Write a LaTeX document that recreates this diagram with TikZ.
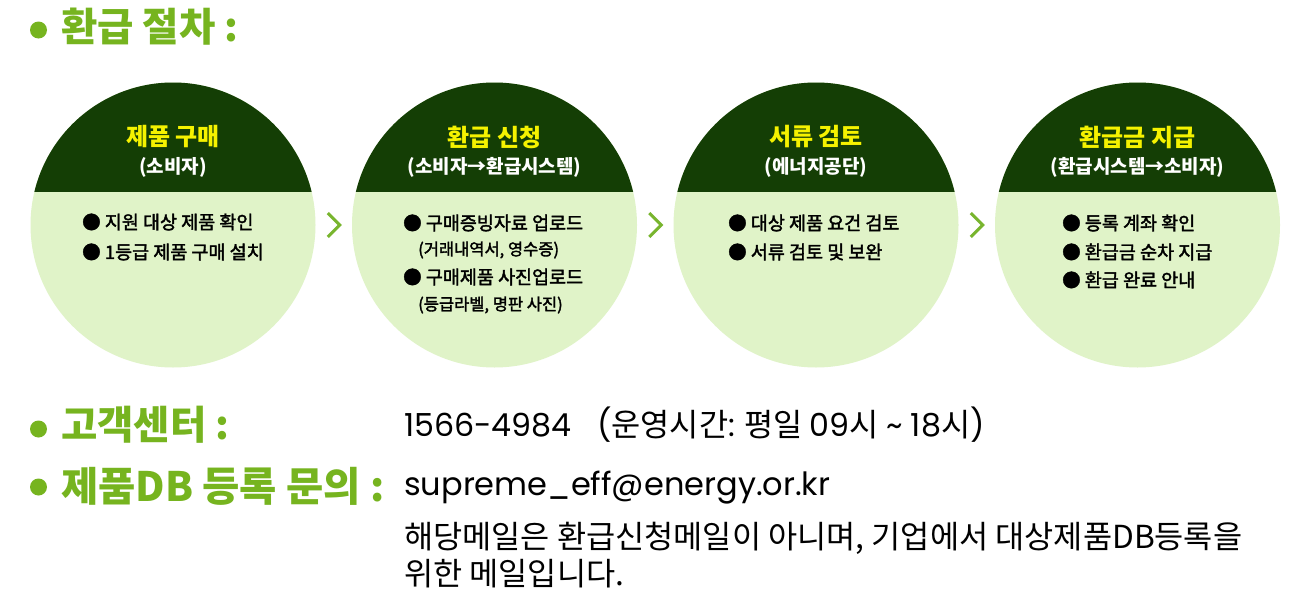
\documentclass[tikz,border=0pt]{standalone}
\usepackage{fontspec}
\setmainfont{Noto Sans CJK KR}
\newfontfamily\pop{Poppins}
\newfontfamily\krmid{Noto Sans CJK KR}[FakeBold=2]
\usetikzlibrary{calc}
\definecolor{hgreen}{HTML}{76B41F}
\definecolor{dgreen}{HTML}{143E05}
\definecolor{lgreen}{HTML}{E0F3C8}
\definecolor{ylw}{HTML}{F5F200}
\definecolor{chevc}{HTML}{78B52E}
\begin{document}
\begin{tikzpicture}[x=1pt,y=-1pt,
  stepcircle/.style={circle, fill=lgreen, minimum size=285pt, inner sep=0pt,
    path picture={\fill[dgreen] ([xshift=-5pt,yshift=5pt]path picture bounding box.north west) rectangle ([xshift=5pt]path picture bounding box.east |- cut);}},
  ttl/.style={inner sep=0pt, text=ylw, font=\bfseries\fontsize{24}{28}\selectfont},
  subt/.style={inner sep=0pt, text=white, font=\bfseries\fontsize{19}{22}\selectfont},
  itm/.style={inner sep=0pt, anchor=west, text=black, font=\krmid\fontsize{18.5}{22}\selectfont},
  itmsub/.style={inner sep=0pt, anchor=west, text=black, font=\krmid\fontsize{16.5}{20}\selectfont},
  chevron/.style={draw=chevc, line width=3pt, line join=miter},
  hdot/.style={circle, fill=hgreen, minimum size=17pt, inner sep=0pt},
  hd/.style={inner sep=0pt, anchor=west, text=hgreen, font=\bfseries\fontsize{39.5}{44}\selectfont},
  hdw/.style={hd, font=\bfseries\fontsize{40.5}{44}\selectfont},
  rt/.style={inner sep=0pt, anchor=west, text=black, font=\fontsize{31.7}{36}\selectfont},
  rtp/.style={inner sep=0pt, anchor=west, text=black, font=\pop\fontsize{32}{36}\selectfont}]
\useasboundingbox (0,0) rectangle (1312,605);
\fill[white] (0,0) rectangle (1312,605);
\coordinate (cut) at (0,192);

% headings
\node[hdot] (d1) at (38.5,30) {};
\node[hd] (h1) at (61,27) {환급 절차 :};

% circles
\node[stepcircle] (c1) at (173,225) {};
\node[stepcircle] (c2) at (494.5,225) {};
\node[stepcircle] (c3) at (816,225) {};
\node[stepcircle] (c4) at (1137.5,225) {};

% chevrons
\coordinate (m12) at ($(c1.east)!0.5!(c2.west)$);
\coordinate (m23) at ($(c2.east)!0.5!(c3.west)$);
\coordinate (m34) at ($(c3.east)!0.5!(c4.west)$);
\foreach \m in {m12,m23,m34}{
  \draw[chevron] ($(\m)+(-6,-12)$) -- ($(\m)+(6,0)$) -- ($(\m)+(-6,12)$);
}

% circle 1
\node[ttl] (t1) at (173,137) {제품 구매};
\node[subt] (s1) at (173,167) {(소비자)};
\node[itm] (a1) at (82,222) {● 지원 대상 제품 확인};
\node[itm] (b1) at (82,252) {● 1등급 제품 구매 설치};

% circle 2
\node[ttl] (t2) at (494.5,137) {환급 신청};
\node[subt] (s2) at (494.5,167) {(소비자→환급시스템)};
\node[itm] (a2) at (403,223) {● 구매증빙자료 업로드};
\node[itmsub] (a2s) at (418,250) {(거래내역서, 영수증)};
\node[itm] (b2) at (403,277) {● 구매제품 사진업로드};
\node[itmsub] (b2s) at (418,305) {(등급라벨, 명판 사진)};

% circle 3
\node[ttl] (t3) at (816,137) {서류 검토};
\node[subt] (s3) at (816,167) {(에너지공단)};
\node[itm] (a3) at (728,223) {● 대상 제품 요건 검토};
\node[itm] (b3) at (728,252) {● 서류 검토 및 보완};

% circle 4
\node[ttl] (t4) at (1137.5,137) {환급금 지급};
\node[subt] (s4) at (1137.5,167) {(환급시스템→소비자)};
\node[itm] (a4) at (1062,223) {● 등록 계좌 확인};
\node[itm] (b4) at (1062,252) {● 환급금 순차 지급};
\node[itm] (e4) at (1062,280) {● 환급 완료 안내};

% contact
\node[hdot] (d2) at (38.5,429) {};
\node[hd] (h2) at (61,425) {고객센터 :};
\node[hdot] (d3) at (38.5,487) {};
\node[hdw] (h3) at (61,486) {제품DB 등록 문의 :};

\node[rt] (r1) at (404,425) {{\pop 1566-4984\ \ \ (}운영시간{\pop :} 평일 {\pop 09}시 {\pop \textasciitilde{} 18}시{\pop )}};
\node[rtp] (r2) at (404,488) {supreme\_eff@energy.or.kr};
\node[rt] (r3) at (404,538) {해당메일은 환급신청메일이 아니며, 기업에서 대상제품DB등록을};
\node[rt] (r4) at (404,574) {위한 메일입니다.};
\end{tikzpicture}
\end{document}
